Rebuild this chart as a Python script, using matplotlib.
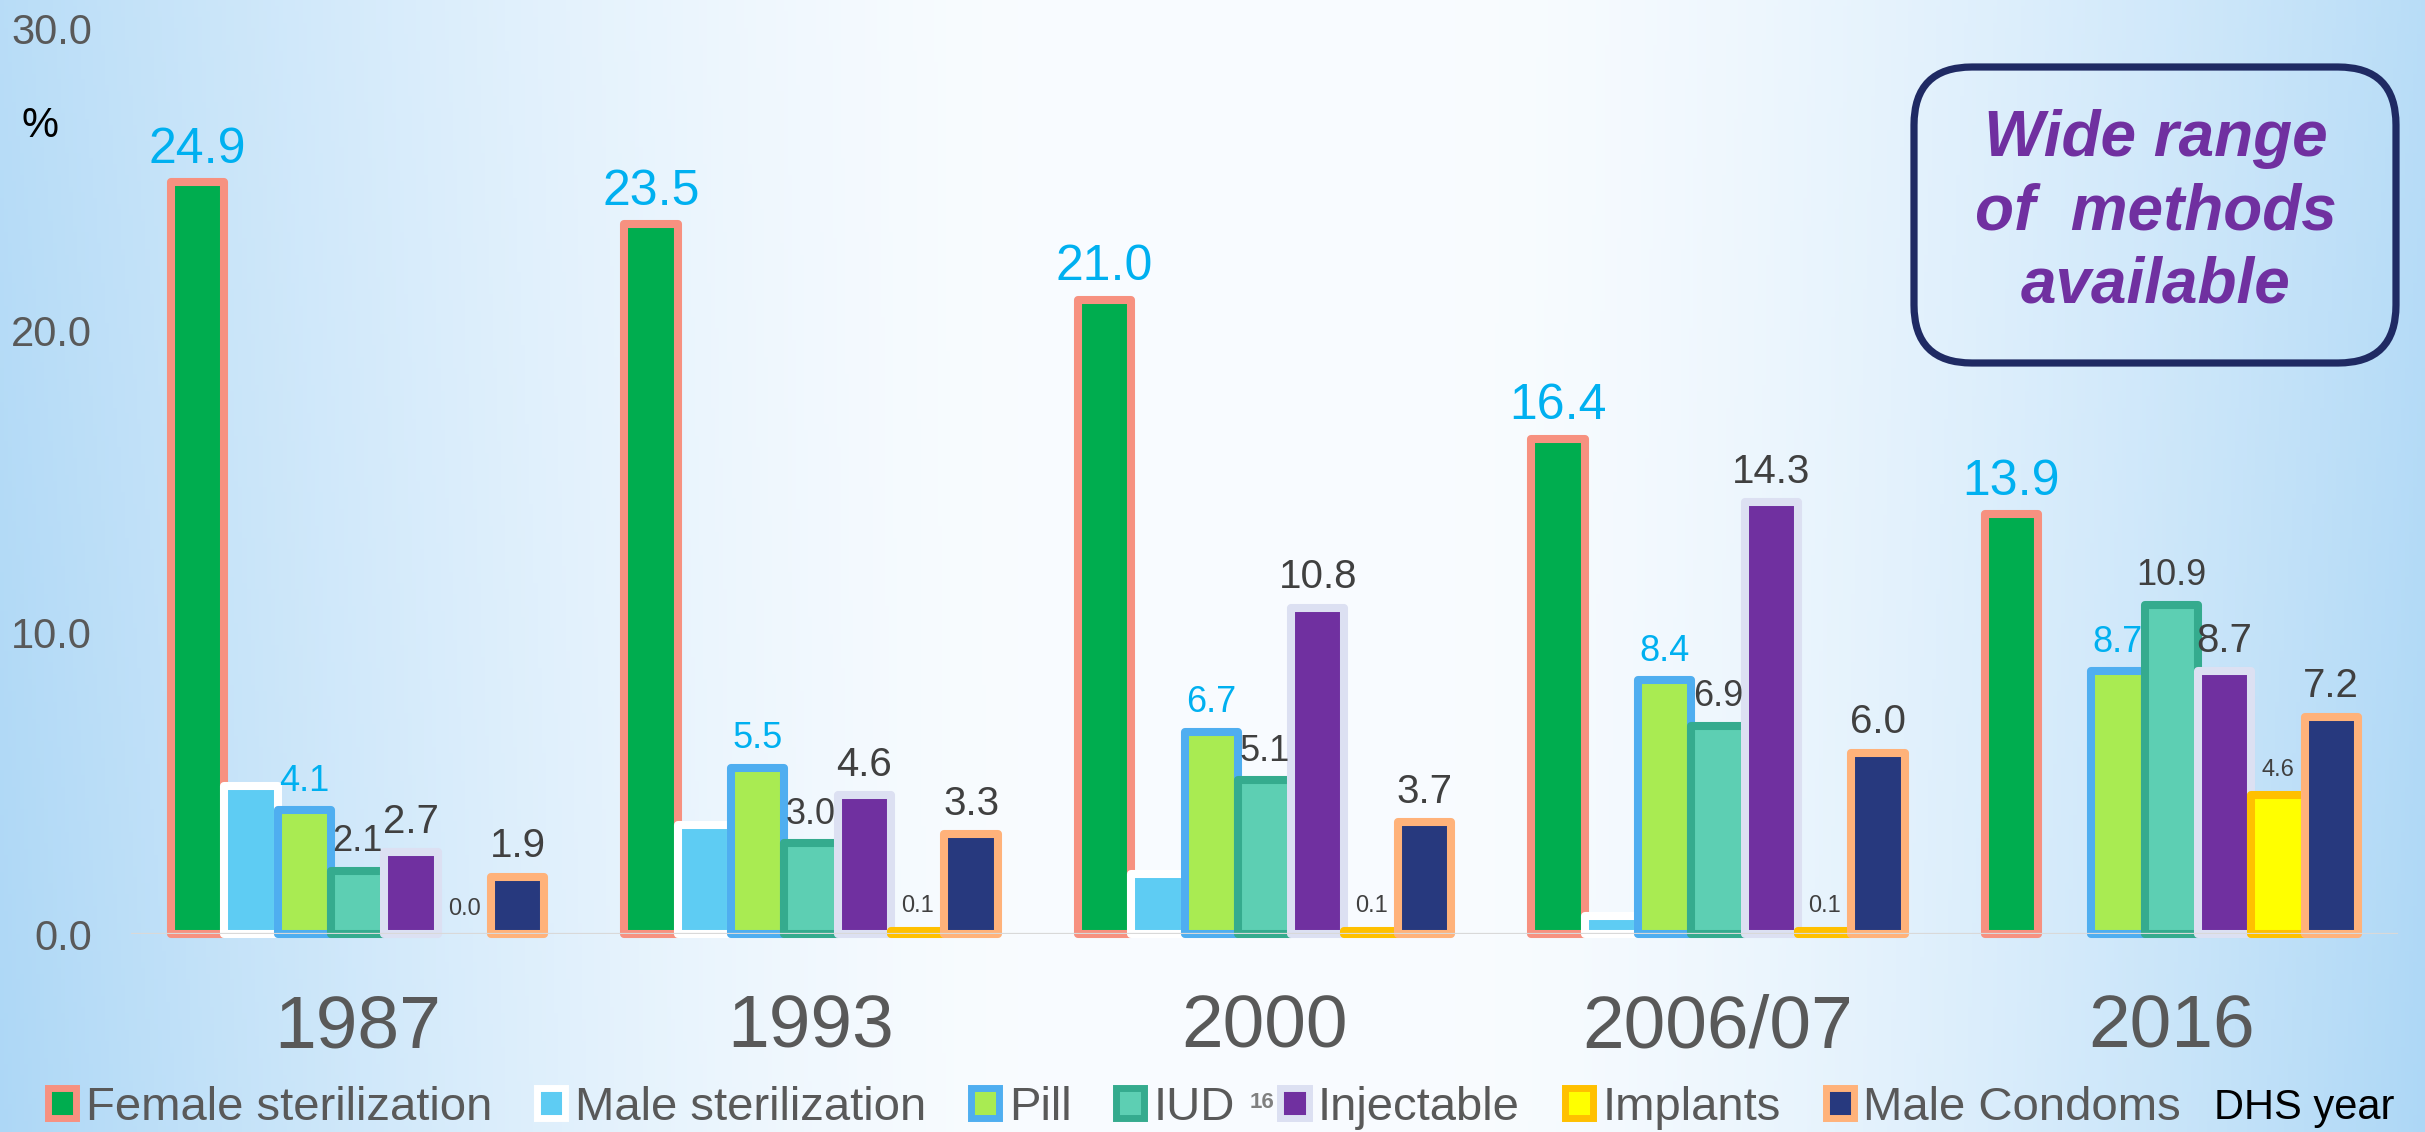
import numpy as np
import matplotlib
matplotlib.use("Agg")
import matplotlib.pyplot as plt
from matplotlib.patches import Patch, FancyBboxPatch

plt.rcParams['font.family'] = ['Liberation Sans', 'DejaVu Sans']

# DHS survey years and contraceptive method mix (%)
years = ["1987", "1993", "2000", "2006/07", "2016"]
methods = ["Female sterilization", "Male sterilization", "Pill", "IUD",
           "Injectable", "Implants", "Male Condoms"]

female_ster = [24.9, 23.5, 21.0, 16.4, 13.9]
male_ster = [4.9, 3.6, 2.0, 0.6, 0.0]
pill = [4.1, 5.5, 6.7, 8.4, 8.7]
iud = [2.1, 3.0, 5.1, 6.9, 10.9]
injectable = [2.7, 4.6, 10.8, 14.3, 8.7]
implants = [0.0, 0.1, 0.1, 0.1, 4.6]
condoms = [1.9, 3.3, 3.7, 6.0, 7.2]

series = [female_ster, male_ster, pill, iud, injectable, implants, condoms]
fills = ["#00AD4F", "#5ECCF3", "#A9EB52", "#5DCFB3", "#7030A0", "#FFFF00", "#27397E"]
edges = ["#F79180", "#FFFFFF", "#4FAEF0", "#35AB8E", "#DCE0F2", "#FFC000", "#FFB27A"]
label_colors = ["#00B0F0", None, "#00B0F0", "#404040", "#404040", "#404040", "#404040"]
label_sizes = [36, 0, 26, 26, 29, 17, 29]

W, H = 2425, 1132
fig = plt.figure(figsize=(W / 100, H / 100), dpi=100)

# background gradient: light blue at the sides, white in the middle
bg = fig.add_axes([0, 0, 1, 1], zorder=-10)
xx = np.linspace(0, 1, 600)
yy = np.linspace(0, 1, 200)[:, None]
left = np.clip(1 - xx / 0.42, 0, 1) ** 1.4
right = np.clip((xx - 0.60) / 0.40, 0, 1) ** 1.5
wgt = np.maximum(left, right)[None, :] * (0.85 + 0.15 * yy)
blue = np.array([0.68, 0.845, 0.965])
white = np.array([0.975, 0.988, 1.0])
img = white[None, None, :] * (1 - wgt[..., None]) + blue[None, None, :] * wgt[..., None]
bg.imshow(img, aspect="auto", extent=[0, 1, 0, 1])
bg.axis("off")

ax = fig.add_axes([131 / W, 1 - 934 / H, (2398 - 131) / W, (934 - 28) / H])
ax.set_facecolor("none")

x = np.arange(len(years))
bw = 0.1176
for i, vals in enumerate(series):
    pos = x + (i - 3) * bw
    lws = [5.8 if v > 0 else 0 for v in vals]
    ax.bar(pos, vals, width=bw, color=fills[i], edgecolor=edges[i],
           linewidth=lws, joinstyle="round", clip_on=False, zorder=2)
    if label_colors[i] is None:
        continue
    for px, v in zip(pos, vals):
        ax.annotate(f"{v:.1f}", (px, v), xytext=(0, 14), textcoords="offset points",
                    ha="center", va="baseline", fontsize=label_sizes[i],
                    color=label_colors[i], zorder=4)

ax.axhline(0, color="#D9D9D9", linewidth=1.6, zorder=3)
ax.set_xlim(-0.5, 4.5)
ax.set_ylim(0, 30)
ax.set_yticks([0, 10, 20, 30])
ax.set_yticklabels([f"{t:.1f}" for t in [0, 10, 20, 30]], fontsize=30, color="#595959")
ax.set_xticks(x)
ax.set_xticklabels(years, fontsize=54, color="#595959")
ax.tick_params(axis="y", length=0, pad=28)
ax.tick_params(axis="x", length=0, pad=43)
for s in ax.spines.values():
    s.set_visible(False)

# overlay in pixel coordinates for annotations
ov = fig.add_axes([0, 0, 1, 1], zorder=5)
ov.set_xlim(0, W)
ov.set_ylim(H, 0)
ov.axis("off")
ov.patch.set_alpha(0)

ov.text(40, 126, "%", fontsize=30, color="black", ha="center", va="center")

box = FancyBboxPatch((1914, 67), 482, 296, boxstyle="round,pad=0,rounding_size=58",
                     facecolor="none", edgecolor="#1F2A63", linewidth=5.2)
ov.add_patch(box)
ov.text(2156, 212, "Wide range\nof  methods\navailable", fontsize=46,
        fontweight="bold", style="italic", color="#7030A0",
        ha="center", va="center", linespacing=1.28)

handles = [Patch(facecolor=fills[i], edgecolor=edges[i], linewidth=5.0) for i in range(7)]
leg = fig.legend(handles, methods, loc="center left", bbox_to_anchor=(48 / W, 1 - 1108 / H),
                 ncol=7, frameon=False, fontsize=34, handlelength=0.6, handleheight=0.6,
                 handletextpad=0.2, columnspacing=0.95, borderpad=0, borderaxespad=0)
for t in leg.get_texts():
    t.set_color("#595959")

fig.text(2214 / W, 1 - 1108 / H, "DHS year", fontsize=30, color="black",
         ha="left", va="center", zorder=10)
fig.text(1262 / W, 1 - 1102 / H, "16", fontsize=16, fontweight="bold", color="#808080",
         ha="center", va="center", zorder=10)

fig.savefig("out.png", dpi=100)
